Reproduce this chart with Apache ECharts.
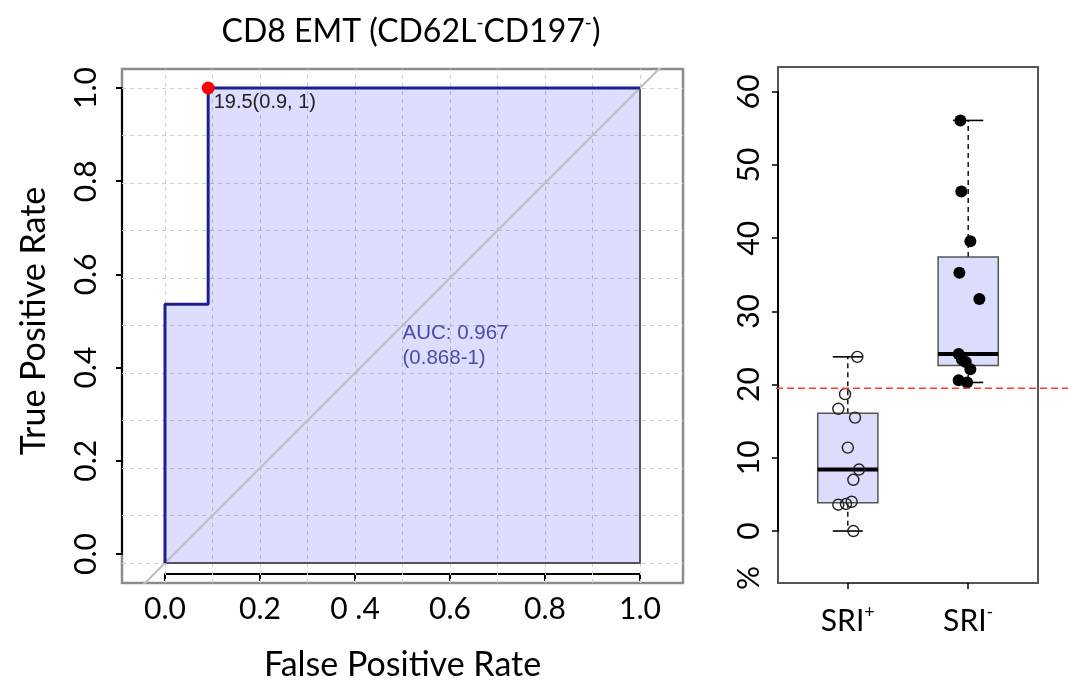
<!DOCTYPE html>
<html><head><meta charset="utf-8">
<script src="https://cdn.jsdelivr.net/npm/echarts@6/dist/echarts.min.js"></script>
<style>html,body{margin:0;padding:0;background:#fff}#c{width:1068px;height:687px}</style>
</head><body><div id="c"></div>
<script>
// ---------- data ----------
const rocFPR = [0, 0, 0.0909, 0.0909, 1];
const rocTPR = [0, 0.545, 0.545, 1, 1];
const bestPoint = [0.0909, 1];
const bestLabel = '19.5(0.9, 1)';
const aucLines = ['AUC: 0.967', '(0.868-1)'];
const aucAnchor = [0.5, 0.458];
const rocTickLabelsX = ['0.0', '0.2', '0 .4', '0.6', '0.8', '1.0'];
const rocTickLabelsY = ['0.0', '0.2', '0.4', '0.6', '0.8', '1.0'];
const rocGridValues = [0, 0.1, 0.2, 0.3, 0.4, 0.5, 0.6, 0.7, 0.8, 0.9, 1.0];
const groups = ['SRI+', 'SRI-'];
const sriPos = [23.8, 18.7, 16.7, 15.5, 11.4, 8.4, 7.0, 4.0, 3.7, 3.6, 0];
const sriPosJitter = [0.079, -0.023, -0.079, 0.06, 0, 0.093, 0.046, 0.032, -0.015, -0.079, 0.046];
const sriNeg = [56.1, 46.4, 39.6, 35.3, 31.7, 24.2, 23.4, 23.1, 22.1, 20.6, 20.3];
const sriNegJitter = [-0.065, -0.057, 0.018, -0.073, 0.093, -0.079, -0.051, -0.02, 0.018, -0.079, -0.009];
const threshold = 19.5;

// ---------- helpers ----------
function q7(arr, p) {
  const s = [...arr].sort((a, b) => a - b);
  const h = (s.length - 1) * p, lo = Math.floor(h), hi = Math.ceil(h);
  return s[lo] + (s[hi] - s[lo]) * (h - lo);
}
function boxStats(arr) {
  const q1 = q7(arr, 0.25), md = q7(arr, 0.5), q3 = q7(arr, 0.75), iqr = q3 - q1;
  const inside = arr.filter(v => v >= q1 - 1.5 * iqr && v <= q3 + 1.5 * iqr);
  return [Math.min(...inside), q1, md, q3, Math.max(...inside)];
}
const groupValues = [sriPos, sriNeg];
const boxData = groupValues.map((vals, i) => [i + 1, ...boxStats(vals)]);
const rocLine = rocFPR.map((x, i) => [x, rocTPR[i]]);

const FONT = 'Lato';
const chart = echarts.init(document.getElementById('c'));

const labelBig = { fontFamily: FONT, fontSize: 30, color: '#000' };

chart.setOption({
  animation: false,
  backgroundColor: '#fff',
  title: {
    text: '{a|CD8 EMT (CD62L}{s|-}{a|CD197}{s|-}{a|)}',
    left: 406, top: 8, textAlign: 'center',
    textStyle: {
      fontWeight: 'normal',
      rich: {
        a: { fontFamily: FONT, fontSize: 32, fontWeight: 'normal', color: '#000', lineHeight: 38 },
        s: { fontFamily: FONT, fontSize: 19, fontWeight: 'normal', color: '#000', lineHeight: 24, verticalAlign: 'top' }
      }
    }
  },
  grid: [
    { left: 122, top: 69, width: 561, height: 514, show: true, borderColor: '#8c8c8c', borderWidth: 2.5, backgroundColor: 'transparent' },
    { left: 165, top: 88, width: 475, height: 475 },
    { left: 778, top: 67, width: 260, height: 516, show: true, borderColor: '#555', borderWidth: 2, backgroundColor: 'transparent' },
    { left: 847.8, top: 91.8, width: 120.4, height: 439.2 },
    { left: 776, top: 67, width: 292, height: 516 }
  ],
  xAxis: [
    { gridIndex: 0, type: 'value', min: -0.0905, max: 1.0905, show: false },
    { gridIndex: 1, type: 'value', min: 0, max: 1, interval: 0.2, offset: 20,
      axisLine: { show: true, onZero: false, lineStyle: { color: '#000', width: 2 } },
      axisTick: { show: true, length: 7, lineStyle: { color: '#000', width: 2 } },
      splitLine: { show: false },
      axisLabel: { ...labelBig, margin: 20, formatter: v => rocTickLabelsX[Math.round(v / 0.2)] },
      name: 'False Positive Rate', nameLocation: 'middle', nameGap: 74,
      nameTextStyle: { fontFamily: FONT, fontSize: 34, color: '#000' } },
    { gridIndex: 2, type: 'value', min: 0.42, max: 2.58, show: false },
    { gridIndex: 3, type: 'value', min: 1, max: 2, interval: 1, offset: 52,
      axisLine: { show: true, onZero: false, lineStyle: { color: '#444', width: 2 } },
      axisTick: { show: true, length: 6, lineStyle: { color: '#000', width: 1.5 } },
      splitLine: { show: false },
      axisLabel: {
        margin: 20,
        formatter: v => { const g = groups[Math.round(v) - 1]; return '{b|' + g.slice(0, -1) + '}{s|' + g.slice(-1) + '}'; },
        rich: {
          b: { fontFamily: FONT, fontSize: 30, color: '#000', lineHeight: 36 },
          s: { fontFamily: FONT, fontSize: 18, color: '#000', lineHeight: 22, verticalAlign: 'top' }
        }
      } },
    { gridIndex: 4, type: 'value', min: 0, max: 1, show: false }
  ],
  yAxis: [
    { gridIndex: 0, type: 'value', min: -0.0421, max: 1.04, show: false },
    { gridIndex: 1, type: 'value', min: 0, max: 1, interval: 0.2, offset: 43,
      axisLine: { show: true, onZero: false, lineStyle: { color: '#000', width: 2 } },
      axisTick: { show: true, length: 6, lineStyle: { color: '#000', width: 2 } },
      splitLine: { show: false },
      axisLabel: { ...labelBig, rotate: 90, margin: 21, formatter: v => rocTickLabelsY[Math.round(v / 0.2)] },
      name: 'True Positive Rate', nameLocation: 'middle', nameGap: 71,
      nameTextStyle: { fontFamily: FONT, fontSize: 34, color: '#000' } },
    { gridIndex: 2, type: 'value', min: -7.1, max: 63.4, show: false },
    { gridIndex: 3, type: 'value', min: 0, max: 60, interval: 10, offset: 69.8,
      axisLine: { show: true, onZero: false, lineStyle: { color: '#000', width: 2 } },
      axisTick: { show: true, length: 6, lineStyle: { color: '#000', width: 1.5 } },
      splitLine: { show: false },
      axisLabel: { ...labelBig, rotate: 90, margin: 14, formatter: v => String(v) } },
    { gridIndex: 4, type: 'value', min: -7.1, max: 63.4, show: false }
  ],
  series: [
    // ROC grid lines
    { type: 'line', xAxisIndex: 0, yAxisIndex: 0, data: [], silent: true, z: 1,
      markLine: { z: 1, symbol: 'none', silent: true, label: { show: false },
        lineStyle: { color: '#cfcfcf', type: [4, 4], width: 1 },
        data: [...rocGridValues.map(v => ({ xAxis: v })), ...rocGridValues.map(v => ({ yAxis: v }))] } },
    // AUC polygon fill
    { type: 'line', xAxisIndex: 0, yAxisIndex: 0, data: rocLine, showSymbol: false, silent: true, z: 2,
      lineStyle: { width: 0, opacity: 0 }, areaStyle: { color: 'rgba(0,0,255,0.135)', opacity: 1 } },
    // polygon border (bottom/right)
    { type: 'line', xAxisIndex: 0, yAxisIndex: 0, data: [[0, 0], [1, 0], [1, 1]], showSymbol: false, silent: true, z: 6,
      lineStyle: { color: '#555', width: 2 } },
    // chance diagonal
    { type: 'line', xAxisIndex: 0, yAxisIndex: 0, data: [[-0.2, -0.2], [1.2, 1.2]], showSymbol: false, silent: true, z: 6,
      lineStyle: { color: '#bdbdbd', width: 2 } },
    // ROC curve
    { type: 'line', xAxisIndex: 0, yAxisIndex: 0, data: rocLine, showSymbol: false, silent: true, z: 7,
      lineStyle: { color: '#1e1e8e', width: 3 } },
    // best threshold point
    { type: 'scatter', xAxisIndex: 0, yAxisIndex: 0, data: [bestPoint], symbolSize: 13, z: 8,
      itemStyle: { color: '#ff0000', opacity: 1 },
      label: { show: true, formatter: bestLabel, position: [12, 11], align: 'left', verticalAlign: 'top',
        fontFamily: 'Liberation Sans', fontSize: 20, color: '#222' } },
    // AUC text
    { type: 'scatter', xAxisIndex: 0, yAxisIndex: 0, data: [aucAnchor], symbolSize: 0, z: 8,
      label: { show: true, formatter: aucLines.join('\n'), position: [0, 0], align: 'left', verticalAlign: 'middle',
        lineHeight: 25, fontFamily: 'Liberation Sans', fontSize: 20.5, color: '#24249a' } },
    // threshold line
    { type: 'line', xAxisIndex: 4, yAxisIndex: 4, data: [[0, threshold], [1, threshold]], showSymbol: false, silent: true, z: 9,
      lineStyle: { color: '#ff3838', width: 1.6, type: [7, 4] } },
    // boxes
    { type: 'custom', xAxisIndex: 2, yAxisIndex: 2, data: boxData, z: 3,
      renderItem: (params, api) => {
        const x = api.value(0), mn = api.value(1), q1 = api.value(2), md = api.value(3), q3 = api.value(4), mx = api.value(5);
        const hw = 0.25, cw = 0.125;
        const c = (a, b) => api.coord([a, b]);
        const ln = (a, b, st) => ({ type: 'line', shape: { x1: a[0], y1: a[1], x2: b[0], y2: b[1] }, style: st });
        const dash = { stroke: '#000', lineWidth: 1.4, lineDash: [5, 4] };
        const solid = { stroke: '#000', lineWidth: 1.6 };
        const tl = c(x - hw, q3), br = c(x + hw, q1);
        return { type: 'group', children: [
          ln(c(x, q3), c(x, mx), dash),
          ln(c(x, q1), c(x, mn), dash),
          ln(c(x - cw, mx), c(x + cw, mx), solid),
          ln(c(x - cw, mn), c(x + cw, mn), solid),
          { type: 'rect', shape: { x: tl[0], y: tl[1], width: br[0] - tl[0], height: br[1] - tl[1] },
            style: { fill: '#dcdcfc', stroke: '#555', lineWidth: 1.5 } },
          ln(c(x - hw, md), c(x + hw, md), { stroke: '#000', lineWidth: 4 })
        ] };
      } },
    // SRI+ points (open)
    { type: 'scatter', xAxisIndex: 2, yAxisIndex: 2, z: 7, symbolSize: 11,
      data: sriPos.map((v, i) => [1 + sriPosJitter[i], v]),
      itemStyle: { color: 'rgba(0,0,0,0)', borderColor: '#222', borderWidth: 1.4, opacity: 1 } },
    // SRI- points (filled)
    { type: 'scatter', xAxisIndex: 2, yAxisIndex: 2, z: 7, symbolSize: 12,
      data: sriNeg.map((v, i) => [2 + sriNegJitter[i], v]),
      itemStyle: { color: '#000', opacity: 1 } }
  ]
});

// "%" label at the foot of the percent axis, placed through the axis scale
const pPct = chart.convertToPixel({ gridIndex: 2 }, [0.42, -6.4]);
chart.setOption({
  graphic: [{ type: 'text', x: pPct[0] - 29, y: pPct[1], rotation: Math.PI / 2,
    style: { text: '%', fontFamily: FONT, fontSize: 30, fill: '#000', align: 'center', verticalAlign: 'middle' } }]
});
</script></body></html>
